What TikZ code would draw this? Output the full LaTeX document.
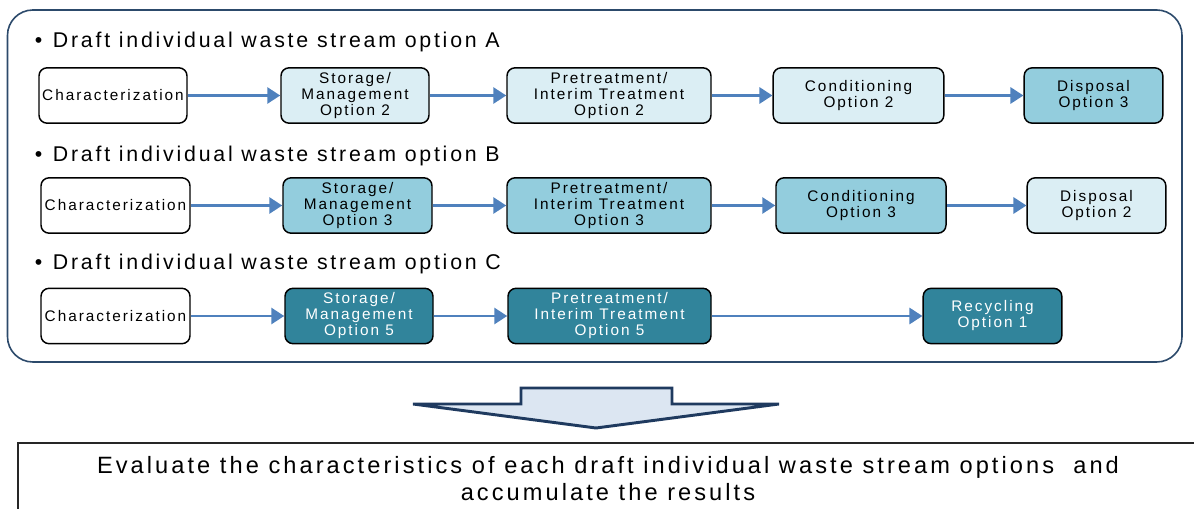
\documentclass[tikz,border=0pt]{standalone}
\usepackage{fontspec}
\setmainfont{Liberation Sans}
\newfontfamily\trackedfont[LetterSpace=13]{Liberation Sans}
\usetikzlibrary{arrows.meta}

\definecolor{paleblue}{HTML}{DBEEF4}
\definecolor{midblue}{HTML}{93CDDD}
\definecolor{deepteal}{HTML}{31849B}
\definecolor{flowblue}{HTML}{4F81BD}
\definecolor{framenavy}{HTML}{2C4A6B}
\definecolor{arrownavy}{HTML}{1F3A5F}
\definecolor{arrowfill}{HTML}{DCE6F2}

\tikzset{
  stagebox/.style={draw=black, line width=1.1pt, rounded corners=6pt,
    align=center, inner sep=0pt, minimum height=41.5pt,
    font=\trackedfont\fontsize{11.5}{12}\selectfont},
  plainbox/.style={stagebox, fill=white},
  palebox/.style={stagebox, fill=paleblue},
  midbox/.style={stagebox, fill=midblue},
  darkbox/.style={stagebox, fill=deepteal, text=white},
  flow/.style={draw=flowblue, line width=2.2pt,
    -{Triangle[length=9.75pt,width=12pt]}},
  heading/.style={anchor=base west, inner sep=0pt,
    font=\trackedfont\fontsize{16}{18}\selectfont},
}

\begin{document}
\begin{tikzpicture}[x=0.75pt, y=-0.75pt]
\useasboundingbox (0,0) rectangle (1194,509);

% frame around the three draft streams
\draw[framenavy, line width=1.2pt, rounded corners=19pt] (7.5,10) rectangle (1182,362);

% option A
\node[heading] (ha) at (34.5,47.7) {•\hspace{8pt}Draft individual waste stream option A};
\node[plainbox, minimum width=111pt]   (a1) at (113,95.5)   {Characterization};
\node[palebox,  minimum width=111pt]   (a2) at (355,95.5)   {Storage/\\Management\\Option 2};
\node[palebox,  minimum width=153pt]   (a3) at (609,95.5)   {Pretreatment/\\Interim Treatment\\Option 2};
\node[palebox,  minimum width=128pt]   (a4) at (858.5,95.5) {Conditioning\\Option 2};
\node[midbox,   minimum width=104pt]   (a5) at (1093.5,95.5){Disposal\\Option 3};
\draw[flow] (a1) -- (a2);
\draw[flow] (a2) -- (a3);
\draw[flow] (a3) -- (a4);
\draw[flow] (a4) -- (a5);

% option B
\node[heading] (hb) at (34.5,161.7) {•\hspace{8pt}Draft individual waste stream option B};
\node[plainbox, minimum width=111.75pt] (b1) at (115.5,205.5) {Characterization};
\node[midbox,   minimum width=111.75pt] (b2) at (357.5,205.5) {Storage/\\Management\\Option 3};
\node[midbox,   minimum width=153pt]    (b3) at (609,205.5)   {Pretreatment/\\Interim Treatment\\Option 3};
\node[midbox,   minimum width=127.5pt]  (b4) at (861,205.5)   {Conditioning\\Option 3};
\node[palebox,  minimum width=104pt]    (b5) at (1096.5,205.5){Disposal\\Option 2};
\draw[flow] (b1) -- (b2);
\draw[flow] (b2) -- (b3);
\draw[flow] (b3) -- (b4);
\draw[flow] (b4) -- (b5);

% option C
\node[heading] (hc) at (34.5,270) {•\hspace{8pt}Draft individual waste stream option C};
\node[plainbox, minimum width=111.75pt] (c1) at (115.5,316) {Characterization};
\node[darkbox,  minimum width=111pt]    (c2) at (359,316)   {Storage/\\Management\\Option 5};
\node[darkbox,  minimum width=152.25pt] (c3) at (609.5,316) {Pretreatment/\\Interim Treatment\\Option 5};
\node[darkbox,  minimum width=104pt]    (c4) at (992.5,316) {Recycling\\Option 1};
\draw[flow] (c1) -- (c2);
\draw[flow] (c2) -- (c3);
\draw[flow] (c3) -- (c4);

% block arrow pointing to the evaluation step
\draw[arrownavy, fill=arrowfill, line width=2.2pt, line join=miter]
  (521,388) -- (672,388) -- (672,404) -- (779,404) -- (596,428)
  -- (413,404) -- (521,404) -- cycle;

% evaluation step
\draw[black!85, line width=0.9pt] (18,443) rectangle (1210,530);
\node[align=center, inner sep=0pt, font=\trackedfont\fontsize{17.7}{20.25}\selectfont] (ev) at (608,479)
  {Evaluate the characteristics of each draft individual waste stream options \ and\\accumulate the results};
\end{tikzpicture}
\end{document}
